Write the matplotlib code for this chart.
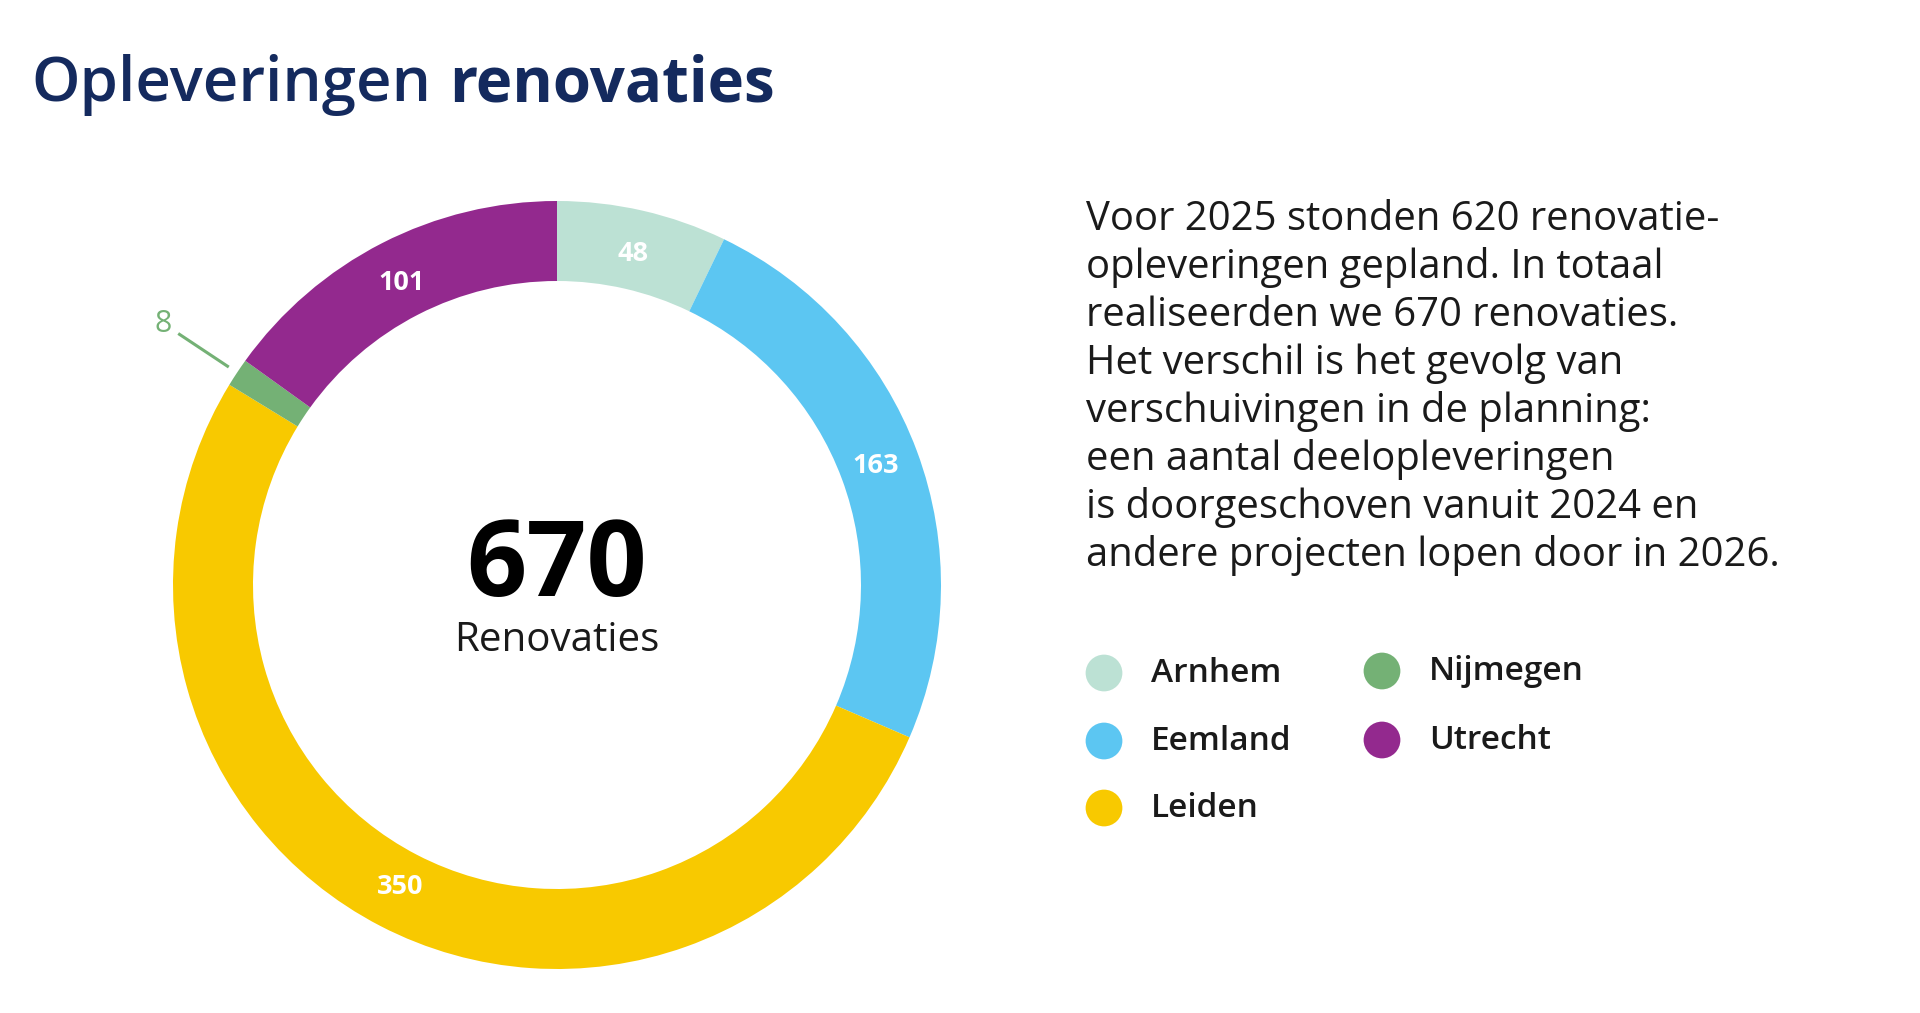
import numpy as np
import matplotlib.pyplot as plt

# data
regions = ['Arnhem', 'Eemland', 'Leiden', 'Nijmegen', 'Utrecht']
values = [48, 163, 350, 8, 101]
colors = ['#bce1d4', '#5cc6f2', '#f8c900', '#74b175', '#93298e']
total_label = '670'
center_sub = 'Renovaties'
title_regular = 'Opleveringen'
title_bold = 'renovaties'
body_lines = [
    'Voor 2025 stonden 620 renovatie-',
    'opleveringen gepland. In totaal',
    'realiseerden we 670 renovaties.',
    'Het verschil is het gevolg van',
    'verschuivingen in de planning:',
    'een aantal deelopleveringen',
    'is doorgeschoven vanuit 2024 en',
    'andere projecten lopen door in 2026.',
]

plt.rcParams['font.family'] = ['Open Sans', 'DejaVu Sans']

W, H = 1920, 1013
fig = plt.figure(figsize=(W / 100, H / 100), dpi=100)
fig.patch.set_facecolor('white')

# overlay axes in pixel coords (y down)
ov = fig.add_axes([0, 0, 1, 1])
ov.set_xlim(0, W)
ov.set_ylim(H, 0)
ov.axis('off')

# donut
cx, cy, R = 557, 585, 384
pax = fig.add_axes([(cx - R) / W, (H - cy - R) / H, 2 * R / W, 2 * R / H])
ring = 80 / R
wedges, _ = pax.pie(values, colors=colors, startangle=90, counterclock=False,
                    radius=1, wedgeprops=dict(width=ring, edgecolor='none'))
pax.set_xlim(-1, 1)
pax.set_ylim(-1, 1)
pax.set_aspect('equal')
pax.axis('off')

rlab = 0.885
for w, v, c in zip(wedges, values, colors):
    ang = np.deg2rad((w.theta1 + w.theta2) / 2)
    if v < 20:
        x0, y0 = 1.03 * np.cos(ang), 1.03 * np.sin(ang)
        x1, y1 = 1.18 * np.cos(ang), 1.18 * np.sin(ang)
        pax.plot([x0, x1], [y0, y1], color=c, lw=2.2, clip_on=False)
        pax.text(1.23 * np.cos(ang), 1.23 * np.sin(ang), str(v), color=c,
                 fontsize=22, ha='center', va='center', clip_on=False)
    else:
        pax.text(rlab * np.cos(ang), rlab * np.sin(ang), str(v), color='white',
                 fontsize=19.5, fontweight='bold', ha='center', va='center')

pax.text(0, 0.045, total_label, fontsize=76, fontweight='bold', color='black',
         ha='center', va='center')
pax.text(0, -0.145, center_sub, fontsize=29, color='#1a1a1a', ha='center', va='center')

# title
t1 = ov.text(31, 101, title_regular, fontsize=44.5, fontweight='semibold',
             color='#142a5e', va='baseline')
ov.annotate(title_bold, xy=(1, 0), xycoords=t1, xytext=(13, 0),
            textcoords='offset points', fontsize=44.5, fontweight='bold',
            color='#142a5e', va='bottom')

# body text
for i, line in enumerate(body_lines):
    ov.text(1086, 230 + i * 48, line, fontsize=28.8, color='#1a1a1a', va='baseline')

# legend
leg_pos = [(1104, 673), (1104, 741), (1104, 808), (1382, 671), (1382, 740)]
for (lx, ly), name, c in zip(leg_pos, regions, colors):
    ov.scatter([lx], [ly], s=700, color=c, edgecolor='none')
    ov.text(lx + 47, ly, name, fontsize=24, fontweight='semibold', color='#1a1a1a',
            va='center')

plt.savefig('out.png', dpi=100, facecolor='white')
